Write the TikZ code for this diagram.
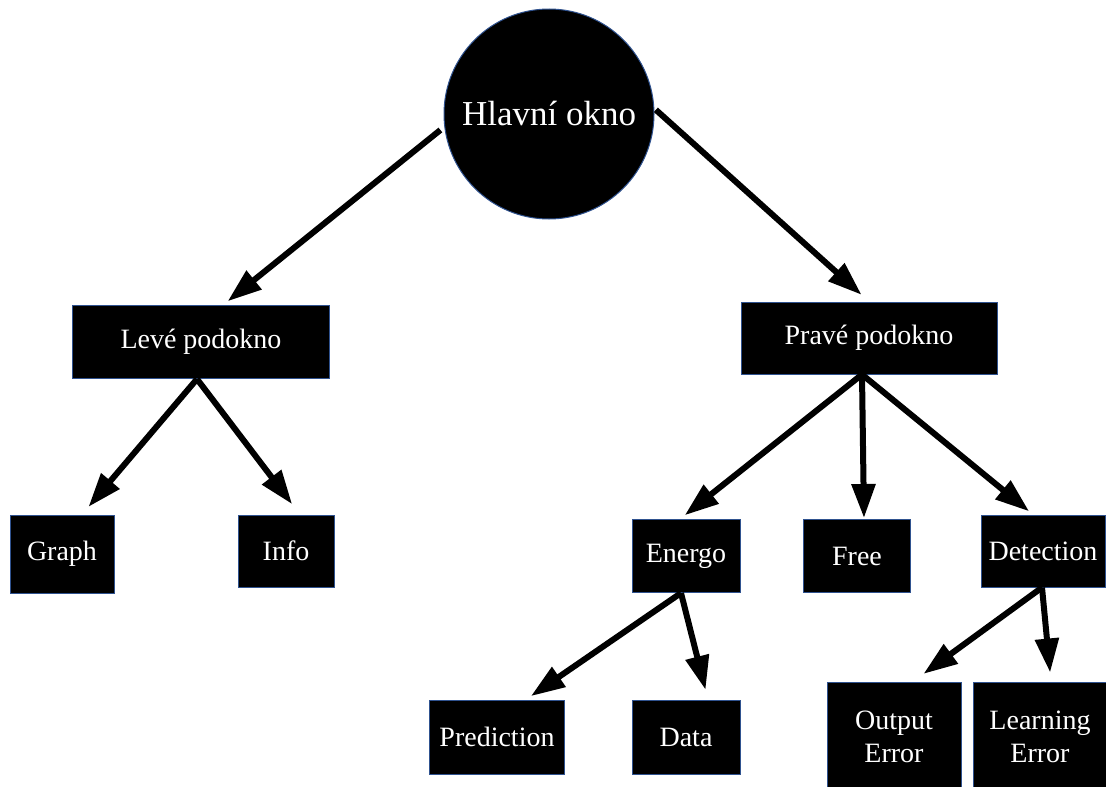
\documentclass[tikz,border=0pt]{standalone}
\usepackage{fontspec}
\setmainfont{Liberation Serif}
\usetikzlibrary{arrows.meta}
\definecolor{edgeblue}{RGB}{47,82,143}

\begin{document}
\begin{tikzpicture}[x=1pt, y=-1pt,
  box/.style = {shape=rectangle, draw=edgeblue, line width=1pt,
    fill=black, text=white, align=center, inner sep=0pt,
    font=\fontsize{28}{33}\selectfont},
  arr/.style = {line width=6pt,
    -{Triangle[length=34pt 0 0, width=23pt 0 0]}}]
  \useasboundingbox (0,0) rectangle (1106,787);
  % root
  \node[box, shape=circle, minimum size=210pt,
    font=\fontsize{35}{40}\selectfont] (hlavni) at (549,114) {Hlavní okno};
  % second level
  \node[box, minimum width=257pt, minimum height=73pt] (levy) at (201,342) {Levé podokno};
  \node[box, minimum width=256pt, minimum height=72pt] (pravy) at (869,338) {Pravé podokno};
  % third level
  \node[box, minimum width=104pt, minimum height=78pt] (graph) at (62,554) {Graph};
  \node[box, minimum width=96pt, minimum height=72pt] (info) at (286,551) {Info};
  \node[box, minimum width=108pt, minimum height=73pt] (energo) at (686,556) {Energo};
  \node[box, minimum width=107pt, minimum height=73pt] (free) at (857,556) {Free};
  \node[box, minimum width=124pt, minimum height=72pt] (detection) at (1043,551) {Detection};
  % fourth level
  \node[box, minimum width=135pt, minimum height=74pt] (prediction) at (497,737) {Prediction};
  \node[box, minimum width=108pt, minimum height=74pt] (data) at (686,737) {Data};
  \node[box, minimum width=134pt, minimum height=110pt] (output) at (894,737) {Output\\Error};
  \node[box, minimum width=133pt, minimum height=110pt] (learning) at (1040,737) {Learning\\Error};

  \draw[arr, shorten <=5pt, shorten >=6pt] (hlavni.187) -- ([xshift=22pt]levy.north);
  \draw[arr, shorten <=2pt, shorten >=10pt] (hlavni.3) -- (pravy.north);
  \draw[arr, shorten >=10pt] ([xshift=-4pt]levy.south) -- ([xshift=20pt]graph.north);
  \draw[arr, shorten >=13pt] ([xshift=-4pt]levy.south) -- ([xshift=14pt]info.north);
  \draw[arr, shorten >=6pt] ([xshift=-7pt]pravy.south) -- ([xshift=-6pt]energo.north);
  \draw[arr, shorten >=1pt] ([xshift=-7pt]pravy.south) -- ([xshift=7pt]free.north);
  \draw[arr, shorten >=5pt] ([xshift=-7pt]pravy.south) -- ([xshift=-10pt]detection.north);
  \draw[arr, shorten >=6pt] ([xshift=-5pt]energo.south) -- ([xshift=29pt]prediction.north);
  \draw[arr, shorten >=10pt] ([xshift=-5pt]energo.south) -- ([xshift=22pt]data.north);
  \draw[arr, shorten >=13pt] ([xshift=-1pt]detection.south) -- ([xshift=19pt]output.north);
  \draw[arr, shorten >=9pt] ([xshift=-1pt]detection.south) -- ([xshift=11pt]learning.north);
\end{tikzpicture}
\end{document}
